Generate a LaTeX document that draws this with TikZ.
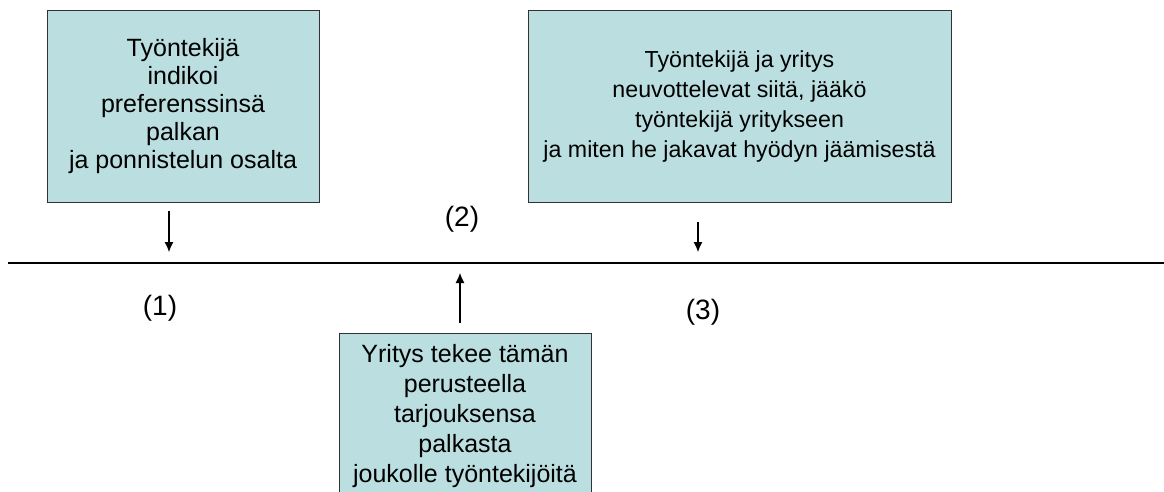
\documentclass[tikz,border=0pt]{standalone}
\usepackage{fontspec}
\setmainfont{Liberation Sans}
\usetikzlibrary{arrows.meta,positioning}
\definecolor{boxfill}{RGB}{187,223,225}
\definecolor{boxline}{RGB}{50,50,50}
\begin{document}
\begin{tikzpicture}[
x=1pt,y=-1pt,
stage/.style={
  draw=boxline,
  fill=boxfill,
  line width=0.8pt,
  align=center,
  inner sep=4pt,
  font=\fontsize{25}{30}\selectfont
},
phase/.style={
  font=\fontsize{28}{32}\selectfont
},
arr/.style={
  line width=1.1pt,
  -{Latex[length=10pt,width=9pt]}
}
]
\useasboundingbox (0,0) rectangle (1164,491);
\clip (0,0) rectangle (1164,491);

% time axis
\coordinate (ax0) at (8,263);
\coordinate (ax1) at (1164,263);
\draw[line width=1.3pt] (ax0) -- (ax1);

\node[stage,minimum width=272,minimum height=192,font=\fontsize{25}{28}\selectfont] at (183,106)
  (s1) {Työntekijä\\ indikoi\\ preferenssinsä\\ palkan\\ ja ponnistelun osalta};
\node[stage,minimum width=423,minimum height=192,font=\fontsize{23.2}{30}\selectfont] at (739.5,106)
  (s3) {Työntekijä ja yritys\\ neuvottelevat siitä, jääkö\\ työntekijä yritykseen\\ ja miten he jakavat hyödyn jäämisestä};
\node[stage,minimum width=252,minimum height=165] at (465,416)
  (s2) {Yritys tekee tämän\\ perusteella\\ tarjouksensa\\ palkasta\\ joukolle työntekijöitä};

\node[phase] at (160,308) (n1) {(1)};
\node[phase] at (462,219) (n2) {(2)};
\node[phase] at (703,312) (n3) {(3)};

\coordinate (p1) at (169,263);
\coordinate (p2) at (460,263);
\coordinate (p3) at (698,263);

\draw[arr,shorten <=9pt,shorten >=11pt] (s1.south -| p1) -- (p1);
\draw[arr,shorten <=20pt,shorten >=11pt] (s3.south -| p3) -- (p3);
\draw[arr,shorten <=10pt,shorten >=10pt] (s2.north -| p2) -- (p2);
\end{tikzpicture}
\end{document}
